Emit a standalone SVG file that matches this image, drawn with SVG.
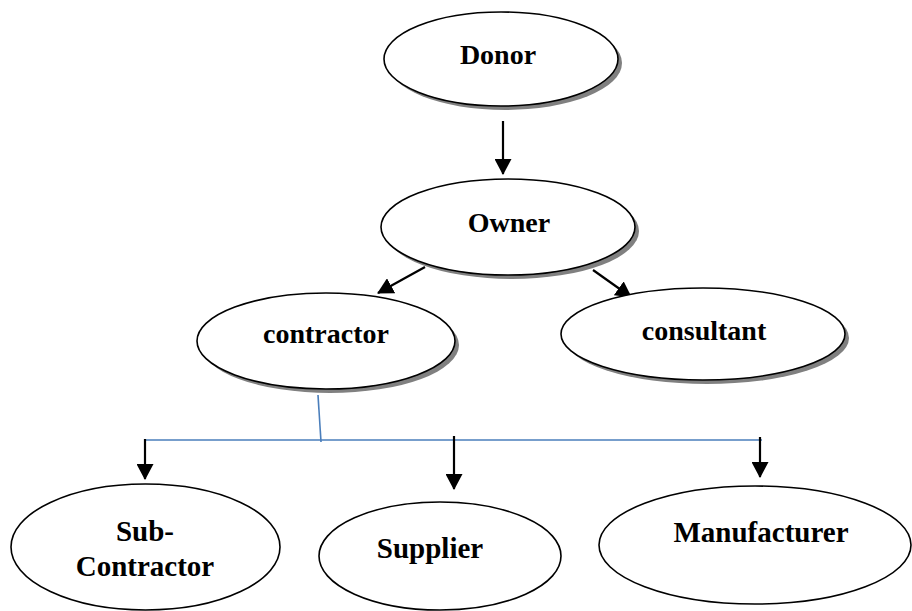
<svg xmlns="http://www.w3.org/2000/svg" width="912" height="611" viewBox="0 0 912 611">
<defs>
<style>
.node{fill:#fff;stroke:#000;stroke-width:1.6}
.shadow{fill:#808080;stroke:none}
.lbl{font-family:"Liberation Serif","Times New Roman",serif;font-weight:bold;font-size:28px;fill:#000;text-anchor:middle}
.lbl2{font-family:"Liberation Serif","Times New Roman",serif;font-weight:bold;font-size:29px;fill:#000;text-anchor:middle}
.arrow{stroke:#000;stroke-width:2.2;fill:none}
.blue{stroke:#4a7ebb;stroke-width:1.6;fill:none}
</style>
<marker id="ah" markerWidth="9" markerHeight="8" refX="8.5" refY="4" orient="auto" markerUnits="userSpaceOnUse" viewBox="0 0 9 8">
<path d="M0,0 L9,4 L0,8 Z" fill="#000"/>
</marker>
<marker id="ahL" markerWidth="16" markerHeight="17" refX="15" refY="8.5" orient="auto" markerUnits="userSpaceOnUse" viewBox="0 0 16 17">
<path d="M0,0 L16,8.5 L0,17 Z" fill="#000"/>
</marker>
</defs>
<g id="connectors">
<line class="arrow" x1="503" y1="121" x2="503" y2="174" marker-end="url(#ahL)"/>
<line class="arrow" x1="425" y1="267" x2="378" y2="293" marker-end="url(#ahL)"/>
<line class="arrow" x1="593" y1="270" x2="631" y2="297" marker-end="url(#ahL)"/>
<polyline class="blue" points="318,395 321,442"/>
<line class="blue" x1="145" y1="440" x2="762" y2="440"/>
<line class="arrow" x1="145" y1="439" x2="145" y2="479" marker-end="url(#ahL)"/>
<line class="arrow" x1="454" y1="436" x2="454" y2="489" marker-end="url(#ahL)"/>
<line class="arrow" x1="760" y1="437" x2="760" y2="477" marker-end="url(#ahL)"/>
</g>
<g id="donor">
<ellipse class="shadow" cx="505" cy="63" rx="117" ry="47"/>
<ellipse class="node" cx="501" cy="59" rx="117" ry="47"/>
<text class="lbl" x="498" y="64">Donor</text>
</g>
<g id="owner">
<ellipse class="shadow" cx="512" cy="231" rx="127" ry="48"/>
<ellipse class="node" cx="508" cy="227" rx="127" ry="48"/>
<text class="lbl" x="509" y="232">Owner</text>
</g>
<g id="contractor">
<ellipse class="shadow" cx="330" cy="345" rx="129" ry="48"/>
<ellipse class="node" cx="326" cy="341" rx="129" ry="48"/>
<text class="lbl" x="326" y="343">contractor</text>
</g>
<g id="consultant">
<ellipse class="shadow" cx="707" cy="338" rx="142" ry="46"/>
<ellipse class="node" cx="703" cy="334" rx="142" ry="46"/>
<text class="lbl" x="704" y="340">consultant</text>
</g>
<g id="subcontractor">
<ellipse class="node" cx="145.5" cy="547" rx="134.5" ry="63"/>
<text class="lbl2" x="145" y="541">Sub-</text>
<text class="lbl2" x="145" y="576">Contractor</text>
</g>
<g id="supplier">
<ellipse class="node" cx="440" cy="556" rx="121" ry="54"/>
<text class="lbl2" x="430" y="558">Supplier</text>
</g>
<g id="manufacturer">
<ellipse class="node" cx="755" cy="545" rx="156" ry="59"/>
<text class="lbl2" x="761" y="542">Manufacturer</text>
</g>
</svg>
